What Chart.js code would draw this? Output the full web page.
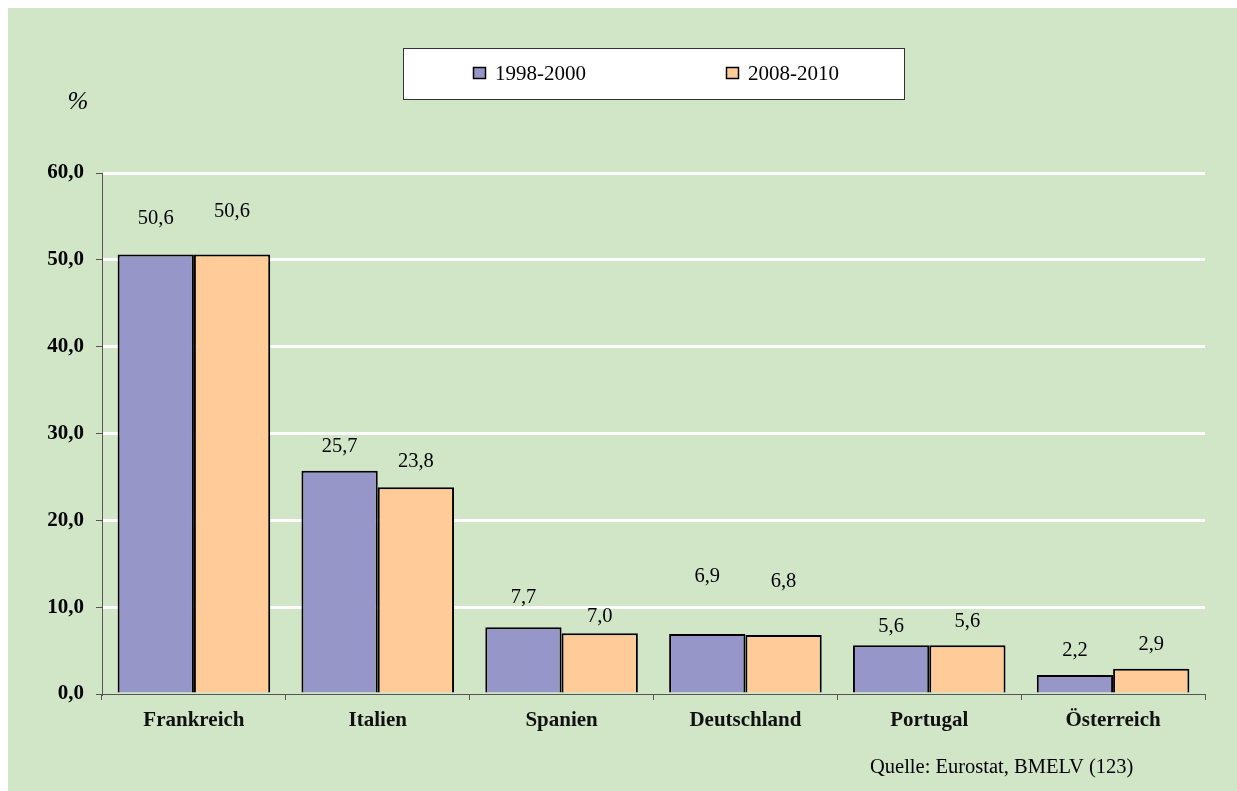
<!DOCTYPE html>
<html>
<head>
<meta charset="utf-8">
<script src="https://cdn.jsdelivr.net/npm/chart.js@4.4.1/dist/chart.umd.min.js"></script>
<style>
    html, body { margin: 0; padding: 0; background: #fff; }
    canvas { display: block; }
</style>
</head>
<body>
<canvas id="myChart" width="1237" height="791"></canvas>
<script>

const labels = [
    'Frankreich',
    'Italien',
    'Spanien',
    'Deutschland',
    'Portugal',
    'Österreich',
];

const seriesNames = ['1998-2000', '2008-2010'];
const values1998 = [50.6, 25.7, 7.7, 6.9, 5.6, 2.2];
const values2008 = [50.6, 23.8, 7.0, 6.8, 5.6, 2.9];
const yTicks = [0, 10, 20, 30, 40, 50, 60];

// label distance above each bar (px), the original puts them unevenly
const labelGap = [
    [36, 24, 30, 57, 19, 24],
    [43, 26, 17, 53, 24, 24],
];

const serif = 'Liberation Serif, Times New Roman, serif';
const colors = ['#9696c8', '#ffcc99'];

const fmt = v => v.toFixed(1).replace('.', ',');

const background = {
    id: 'background',
    beforeDraw(chart) {
        const ctx = chart.ctx;
        ctx.save();
        ctx.fillStyle = '#d0e6c7';
        ctx.fillRect(8, 8, chart.width - 8, chart.height - 8);
        ctx.restore();
    }
};

const extras = {
    id: 'extras',
    afterDatasetsDraw(chart) {
        const ctx = chart.ctx;
        ctx.save();
        ctx.fillStyle = '#000';
        ctx.textAlign = 'center';
        ctx.textBaseline = 'middle';
        ctx.font = '20.5px ' + serif;
        chart.data.datasets.forEach((ds, d) => {
            chart.getDatasetMeta(d).data.forEach((bar, i) => {
                ctx.fillText(fmt(ds.data[i]), bar.x, bar.y - labelGap[d][i]);
            });
        });
        ctx.restore();
    },
    afterDraw(chart) {
        const ctx = chart.ctx;
        ctx.save();

        // legend box
        ctx.fillStyle = '#fff';
        ctx.fillRect(403, 48, 501, 51);
        ctx.strokeStyle = '#333';
        ctx.lineWidth = 1;
        ctx.strokeRect(403.5, 48.5, 501, 51);
        const xs = [473, 726];
        chart.data.datasets.forEach((ds, d) => {
            ctx.fillStyle = ds.backgroundColor;
            ctx.fillRect(xs[d], 67, 13, 12);
            ctx.strokeStyle = '#000';
            ctx.lineWidth = 1.5;
            ctx.strokeRect(xs[d] + 0.5, 67.5, 12, 11);
            ctx.fillStyle = '#000';
            ctx.font = '21px ' + serif;
            ctx.textAlign = 'left';
            ctx.textBaseline = 'alphabetic';
            ctx.fillText(ds.label, xs[d] + 22, 80);
        });

        // unit
        ctx.font = 'italic 25px ' + serif;
        ctx.textAlign = 'center';
        ctx.textBaseline = 'middle';
        ctx.fillText('%', 78, 102);

        // source
        ctx.font = '20.5px ' + serif;
        ctx.textAlign = 'left';
        ctx.fillText('Quelle: Eurostat, BMELV (123)', 870, 768);
        ctx.restore();
    }
};

const data = {
    labels: labels,
    datasets: [{
        label: seriesNames[0],
        backgroundColor: colors[0],
        borderColor: '#000',
        borderWidth: 2,
        data: values1998,
    }, {
        label: seriesNames[1],
        backgroundColor: colors[1],
        borderColor: '#000',
        borderWidth: 2,
        data: values2008,
    }]
};

const configBar = {
    type: 'bar',
    data: data,
    options: {
        responsive: false,
        animation: false,
        categoryPercentage: 0.83,
        barPercentage: 1.0,
        layout: {
            padding: { top: 173, right: 32, left: 0, bottom: 0 }
        },
        plugins: {
            legend: { display: false },
            tooltip: { enabled: false },
        },
        scales: {
            x: {
                afterFit(scale) { scale.height = 97; },
                grid: {
                    drawOnChartArea: false,
                    tickLength: 6,
                    tickColor: '#555',
                    offset: true,
                },
                border: { color: '#555', width: 1 },
                ticks: {
                    color: '#111',
                    padding: 8,
                    font: { family: serif, size: 21, weight: 'bold' },
                },
            },
            y: {
                min: yTicks[0],
                max: yTicks[yTicks.length - 1],
                afterFit(scale) { scale.width = 102; },
                afterBuildTicks(scale) {
                    scale.ticks = yTicks.map(v => ({ value: v }));
                },
                grid: {
                    color: c => (c.tick && c.tick.value === 0) ? 'rgba(0,0,0,0)' : '#ffffff',
                    lineWidth: 3,
                    tickLength: 6,
                    tickColor: '#555',
                    tickWidth: 1,
                },
                border: { color: '#555', width: 1 },
                ticks: {
                    color: '#000',
                    padding: 12,
                    font: { family: serif, size: 21, weight: 'bold' },
                    callback: v => fmt(v),
                },
            }
        }
    },
    plugins: [background, extras],
};

var myChart = new Chart(
    document.getElementById('myChart'),
    configBar
);

</script>
</body>
</html>
